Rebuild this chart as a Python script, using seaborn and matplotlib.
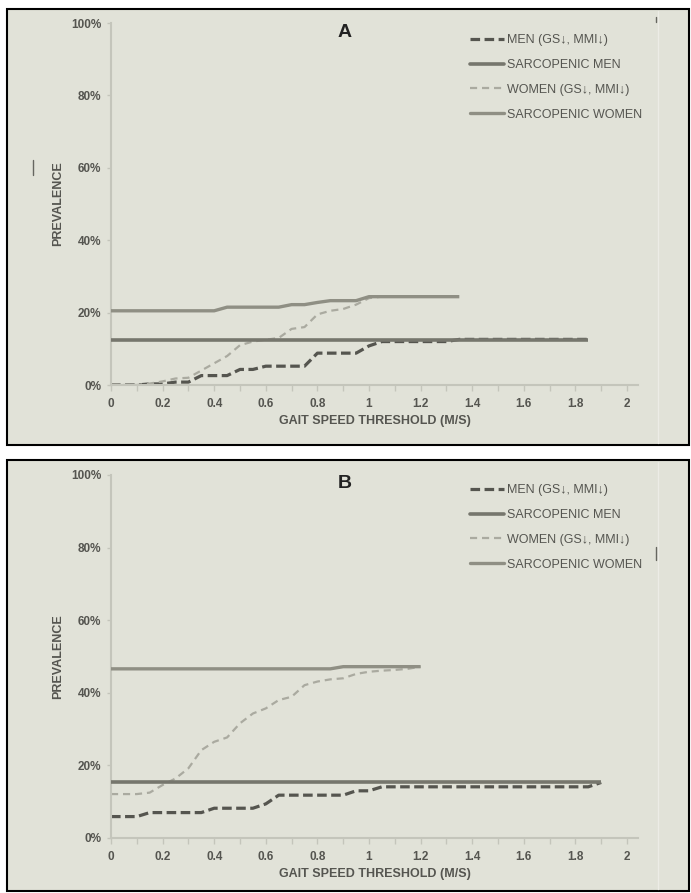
import numpy as np
import pandas as pd
import matplotlib
matplotlib.use('Agg')
import matplotlib.pyplot as plt
import seaborn as sns
from matplotlib.patches import Rectangle
from matplotlib.lines import Line2D
from matplotlib.ticker import MultipleLocator, FuncFormatter

# gait speed thresholds (m/s), step 0.05
x_a_men = np.round(np.arange(0, 1.851, 0.05), 2)
x_a_women = np.round(np.arange(0, 1.351, 0.05), 2)
x_b_men = np.round(np.arange(0, 1.901, 0.05), 2)
x_b_women = np.round(np.arange(0, 1.201, 0.05), 2)

# panel A
a_men_low = [0, 0, 0, 0.003, 0.003, 0.008, 0.008, 0.026, 0.026, 0.026,
             0.043, 0.043, 0.052, 0.052, 0.052, 0.052, 0.088, 0.088, 0.088, 0.088,
             0.108, 0.12, 0.12, 0.12, 0.12, 0.12, 0.12, 0.126, 0.126, 0.126,
             0.126, 0.126, 0.126, 0.126, 0.126, 0.126, 0.126, 0.126]
a_sarc_men = [0.125] * 38
a_women_low = [0, 0, 0, 0.004, 0.01, 0.018, 0.02, 0.04, 0.06, 0.08,
               0.11, 0.12, 0.125, 0.13, 0.155, 0.16, 0.195, 0.205, 0.21, 0.222,
               0.24, 0.244, 0.244, 0.244, 0.244, 0.244, 0.244, 0.244]
a_sarc_women = [0.205, 0.205, 0.205, 0.205, 0.205, 0.205, 0.205, 0.205, 0.205, 0.215,
                0.215, 0.215, 0.215, 0.215, 0.222, 0.222, 0.228, 0.233, 0.233, 0.233,
                0.244, 0.244, 0.244, 0.244, 0.244, 0.244, 0.244, 0.244]

# panel B
b_men_low = [0.059, 0.059, 0.059, 0.07, 0.07, 0.07, 0.07, 0.07, 0.082, 0.082,
             0.082, 0.082, 0.094, 0.118, 0.118, 0.118, 0.118, 0.118, 0.118, 0.13,
             0.13, 0.141, 0.141, 0.141, 0.141, 0.141, 0.141, 0.141, 0.141, 0.141,
             0.141, 0.141, 0.141, 0.141, 0.141, 0.141, 0.141, 0.141, 0.153]
b_sarc_men = [0.153] * 39
b_women_low = [0.121, 0.121, 0.121, 0.125, 0.146, 0.164, 0.192, 0.242, 0.265, 0.277,
               0.316, 0.343, 0.357, 0.38, 0.389, 0.421, 0.431, 0.437, 0.44, 0.452,
               0.458, 0.461, 0.463, 0.466, 0.472]
b_sarc_women = [0.466] * 18 + [0.472] * 7

labels = ['MEN (GS↓, MMI↓)', 'SARCOPENIC MEN', 'WOMEN (GS↓, MMI↓)', 'SARCOPENIC WOMEN']
panel_titles = ['A', 'B']

sns.set_style('white')
plt.rcParams['font.family'] = ['Liberation Sans', 'DejaVu Sans']

bg = '#e1e2d8'
txt = '#555550'
axis_col = '#c4c5bb'
styles = [
    dict(color='#55554f', lw=2.3, dashes=(3.0, 1.4)),
    dict(color='#76766d', lw=2.6, dashes=None),
    dict(color='#aaaaa0', lw=1.6, dashes=(3.2, 2.2)),
    dict(color='#8f8f84', lw=2.4, dashes=None),
]

W, H = 691, 893
fig = plt.figure(figsize=(W / 100, H / 100), dpi=100)
fig.patch.set_facecolor('white')

# panel frames
for top, bot in [(9, 445), (460, 891)]:
    fig.patches.append(Rectangle((7 / W, 1 - bot / H), 682 / W, (bot - top) / H,
                                 transform=fig.transFigure, facecolor=bg,
                                 edgecolor='black', lw=1.5, zorder=-10))
    fig.lines.append(Line2D([658 / W, 658 / W], [1 - (bot - 2) / H, 1 - (top + 2) / H],
                            transform=fig.transFigure, color='#ecece6', lw=1, zorder=-5))

panels = [
    (x_a_men, x_a_women, [a_men_low, a_sarc_men, a_women_low, a_sarc_women], 23, 385, 11),
    (x_b_men, x_b_women, [b_men_low, b_sarc_men, b_women_low, b_sarc_women], 475, 838, 9),
]

for i, (xm, xw, series, y100, y0, leg_off) in enumerate(panels):
    ax = fig.add_axes([111 / W, 1 - y0 / H, (638 - 111) / W, (y0 - y100) / H])
    ax.set_facecolor('none')
    xs = [xm, xm, xw, xw]
    handles = []
    for j in range(4):
        st = styles[j]
        df = pd.DataFrame({'x': xs[j], 'y': series[j]})
        sns.lineplot(data=df, x='x', y='y', ax=ax, color=st['color'], lw=st['lw'])
        ln = ax.lines[-1]
        if st['dashes'] is not None:
            ln.set_dashes(st['dashes'])
        ln.set_solid_capstyle('butt')
        ln.set_dash_capstyle('butt')
        h = Line2D([], [], color=st['color'], lw=st['lw'])
        if st['dashes'] is not None:
            h.set_dashes(st['dashes'])
        handles.append(h)
    # sarcopenic lines sit on top of the dashed ones
    ax.lines[1].set_zorder(3)
    ax.lines[3].set_zorder(3)

    ax.set_xlim(0, 2.0426)
    ax.set_ylim(0, 1)
    for s in ['top', 'right']:
        ax.spines[s].set_visible(False)
    for s in ['left', 'bottom']:
        ax.spines[s].set_color(axis_col)
        ax.spines[s].set_linewidth(1.5)
    ax.xaxis.set_major_locator(MultipleLocator(0.2))
    ax.xaxis.set_minor_locator(MultipleLocator(0.1))
    ax.yaxis.set_major_locator(MultipleLocator(0.2))
    ax.xaxis.set_major_formatter(FuncFormatter(lambda v, p: f'{v:g}'))
    ax.yaxis.set_major_formatter(FuncFormatter(lambda v, p: f'{v * 100:.0f}%'))
    ax.tick_params(axis='x', which='both', direction='out', length=4, width=1,
                   color=axis_col, bottom=True, pad=5)
    ax.tick_params(axis='y', which='both', direction='out', length=3, width=1,
                   color=axis_col, left=True, pad=4)
    for lab in ax.get_xticklabels() + ax.get_yticklabels():
        lab.set_fontsize(8.5)
        lab.set_fontweight('bold')
        lab.set_color(txt)
    ax.set_xlabel('GAIT SPEED THRESHOLD (M/S)', fontsize=9, fontweight='bold', color=txt, labelpad=4)
    ax.set_ylabel('PREVALENCE', fontsize=9, fontweight='bold', color=txt, labelpad=5)
    ax.set_title(panel_titles[i], fontsize=14, fontweight='bold', color='#222222',
                 x=(345 - 111) / (638 - 111), y=1 - 9 / (y0 - y100), va='center', pad=0)
    leg = ax.legend(handles, labels, loc='upper left', frameon=False,
                    bbox_to_anchor=(470 / W, 1 - (y100 + leg_off) / H), bbox_transform=fig.transFigure,
                    fontsize=9, handlelength=2.7, handletextpad=0.25, labelspacing=1.03,
                    borderpad=0, borderaxespad=0)
    for t in leg.get_texts():
        t.set_color(txt)

# small scan marks
for xs_, ys_ in [((33, 33), (160, 175)), ((656, 656), (17, 22)), ((656, 656), (547, 560))]:
    fig.lines.append(Line2D([xs_[0] / W, xs_[1] / W], [1 - ys_[0] / H, 1 - ys_[1] / H],
                            transform=fig.transFigure, color='#666660', lw=1, zorder=-5))

fig.savefig('out.png', dpi=100)
